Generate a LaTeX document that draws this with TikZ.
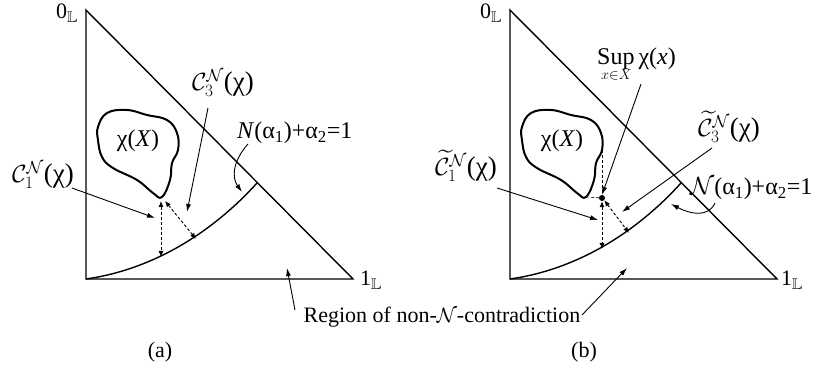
\documentclass[tikz,border=0pt]{standalone}
\usepackage{amssymb}
\usepackage{fontspec}
\setmainfont{Liberation Serif}
\usetikzlibrary{arrows.meta}
\tikzset{
  frame/.style={line width=1.4pt},
  blob/.style={line width=2pt,line join=round},
  pointer/.style={line width=0.9pt,-{Latex[length=8pt,width=5pt]}},
  dbl/.style={line width=0.9pt,dash pattern=on 3pt off 2pt,{Latex[length=6pt,width=5pt]}-{Latex[length=6pt,width=5pt]}},
  thindash/.style={line width=0.6pt,dash pattern=on 3pt off 2pt},
  lbl/.style={inner sep=0pt,font=\fontsize{22}{26}\selectfont},
  mid/.style={inner sep=0pt,font=\fontsize{24}{28}\selectfont},
  big/.style={inner sep=0pt,font=\fontsize{27}{31}\selectfont},
  corner/.style={inner sep=0pt,font=\fontsize{22}{26}\selectfont},
}
\begin{document}
\begin{tikzpicture}[x=1pt,y=-1pt]
\useasboundingbox (0,0) rectangle (816,387);
% ---------- panel (a) ----------
\coordinate (Ta) at (86,10);
\coordinate (Oa) at (86,279);
\coordinate (Ra) at (353,279);
\coordinate (Ea) at (257,183);
\draw[frame] (Ta) -- (Oa) -- (Ra) -- cycle;
\draw[frame] (Oa) .. controls (150,270) and (210,235) .. (Ea);
\draw[blob] plot[smooth cycle, tension=0.7] coordinates {(98,127) (107,113) (127,110) (147,115) (167,120) (177,133) (178,150) (172,163) (170,180) (162,197) (153,193) (137,180) (113,168) (102,157) (98,140)};
\node[mid] (chia) at (138,141) {χ(\textit{X})};
\node[corner, anchor=base east] (zeroa) at (78,19) {0$_{\mathbb{L}}$};
\node[corner, anchor=base west] (onea) at (360,286) {1$_{\mathbb{L}}$};
\node[big] (c1a) at (43,175) {$\mathcal{C}_1^{\mathcal{N}}$(χ)};
\node[big] (c3a) at (223,83) {$\mathcal{C}_3^{\mathcal{N}}$(χ)};
\coordinate (c1as) at (72,188);
\coordinate (c1ae) at (155,218);
\draw[pointer] (c1as) -- (c1ae);
\coordinate (c3as) at (208,108);
\coordinate (c3ae) at (187,212);
\draw[pointer] (c3as) -- (c3ae);
\coordinate (tpa) at (161,201);
\coordinate (cva) at (161,257);
\draw[dbl] (tpa) -- (cva);
\coordinate (tpa2) at (165,201);
\coordinate (cva2) at (196,239);
\draw[dbl] (tpa2) -- (cva2);
\node[mid, anchor=west] (Na) at (237,133) {\textit{N}(α\textsubscript{1})+α\textsubscript{2}=1};
\coordinate (nas) at (248,144);
\coordinate (nae) at (242,192);
\draw[pointer] (nas) .. controls (232,162) and (232,178) .. (nae);
\node[lbl] (capa) at (160,352) {(a)};
% ---------- shared label ----------
\node[lbl] (reg) at (442,317) {Region of non-$\mathcal{N}$-contradiction};
\coordinate (rgas) at (295,310);
\coordinate (rgae) at (287,268);
\draw[pointer] (rgas) -- (rgae);
\coordinate (rgbs) at (582,315);
\coordinate (rgbe) at (627,268);
\draw[pointer] (rgbs) -- (rgbe);
% ---------- panel (b) ----------
\coordinate (Tb) at (510,10);
\coordinate (Ob) at (510,279);
\coordinate (Rb) at (777,279);
\coordinate (Eb) at (681,183);
\draw[frame] (Tb) -- (Ob) -- (Rb) -- cycle;
\draw[frame] (Ob) .. controls (574,270) and (634,235) .. (Eb);
\draw[blob] plot[smooth cycle, tension=0.7] coordinates {(522,127) (531,113) (551,110) (571,115) (591,120) (601,133) (602,150) (596,163) (594,180) (586,197) (577,193) (561,180) (537,168) (526,157) (522,140)};
\node[mid] (chib) at (562,141) {χ(\textit{X})};
\node[corner, anchor=base east] (zerob) at (502,19) {0$_{\mathbb{L}}$};
\node[corner, anchor=base west] (oneb) at (781,286) {1$_{\mathbb{L}}$};
\node[circle, fill, inner sep=0pt, minimum size=6pt] (sup) at (602,198) {};
\coordinate (bright) at (602,150);
\coordinate (bbot) at (586,197);
\draw[thindash] (bright) -- (sup.center);
\draw[thindash] (bbot) -- (sup.center);
\coordinate (cvb) at (602,249);
\draw[dbl] (sup.south) -- (cvb);
\coordinate (cvb2) at (629,233);
\draw[dbl] (sup.south east) -- (cvb2);
\node[mid, anchor=base west] (supl) at (597,65) {Sup\,χ(\textit{x})};
\node[inner sep=0pt, font=\fontsize{15}{17}\selectfont, anchor=base west] (supsub) at (601,80) {$x{\in}X$};
\coordinate (sps) at (641,84);
\draw[pointer] (sps) -- (sup.north);
\node[big] (c1b) at (466,166) {$\widetilde{\mathcal{C}}_1^{\mathcal{N}}$(χ)};
\node[big] (c3b) at (729,127) {$\widetilde{\mathcal{C}}_3^{\mathcal{N}}$(χ)};
\coordinate (c1bs) at (497,188);
\coordinate (c1be) at (598,220);
\draw[pointer] (c1bs) -- (c1be);
\coordinate (c3bs) at (712,148);
\coordinate (c3be) at (622,212);
\draw[pointer] (c3bs) -- (c3be);
\node[mid, anchor=west] (Nb) at (690,189) {$\mathcal{N}$(α\textsubscript{1})+α\textsubscript{2}=1};
\coordinate (nbs) at (715,203);
\coordinate (nbe) at (671,204);
\draw[pointer] (nbs) .. controls (708,218) and (690,214) .. (nbe);
\node[lbl] (capb) at (584,352) {(b)};
\end{tikzpicture}
\end{document}
